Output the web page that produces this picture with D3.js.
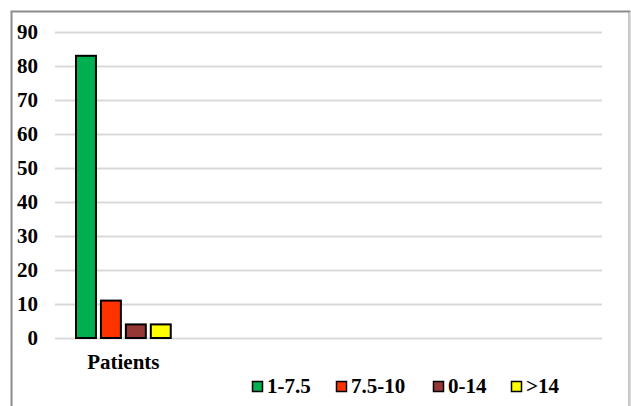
<!DOCTYPE html>
<html><head><meta charset="utf-8">
<script src="https://cdn.jsdelivr.net/npm/d3@7"></script>
<style>body{margin:0;background:#fff}svg{display:block}</style>
</head><body>
<script>
const categories = ["Patients", "", " ", "  "];
const seriesNames = ["1-7.5", "7.5-10", "0-14", ">14"];
const seriesValues = [[83], [11], [4], [4]];
const colors = ["#00b050", "#ff3300", "#953735", "#ffff00"];
const yTicks = [0, 10, 20, 30, 40, 50, 60, 70, 80, 90];

const W = 631, H = 406;
const svg = d3.select("body").append("svg").attr("width", W).attr("height", H);
const font = "Liberation Serif";

// outer frame
svg.append("rect").attr("x", 11.5).attr("y", 11.5).attr("width", 618).attr("height", 420)
  .attr("fill", "none").attr("stroke", "#8c8c8c").attr("stroke-width", 2);
svg.append("line").attr("x1", 630).attr("x2", 630).attr("y1", 12).attr("y2", H)
  .attr("stroke", "#e0e0e0").attr("stroke-width", 1.5);

const x0 = d3.scaleBand().domain(categories).range([55, 602]).paddingInner(0).paddingOuter(0);
const x1 = d3.scaleBand().domain(seriesNames).range([21, x0.bandwidth() - 21]).paddingInner(0.2).paddingOuter(0);
const y = d3.scaleLinear().domain([0, 90]).range([338, 32]);

const grid = svg.append("g").attr("transform", "translate(55,0)")
  .call(d3.axisLeft(y).tickValues(yTicks).tickSize(-547).tickFormat(""));
grid.select(".domain").remove();
grid.selectAll("line").attr("stroke", "#d9d9d9").attr("stroke-width", 2);

const yAxis = svg.append("g").attr("transform", "translate(38,0)")
  .attr("font-family", font)
  .call(d3.axisLeft(y).tickValues(yTicks).tickSize(0).tickPadding(0));
yAxis.attr("font-family", font).attr("font-size", 21);
yAxis.select(".domain").remove();
yAxis.selectAll("text").attr("font-family", font).attr("font-weight", "bold")
  .attr("font-size", 21).attr("fill", "#000").attr("dy", "0.33em");

const g = svg.append("g");
seriesNames.forEach((s, i) => {
  g.selectAll(null).data(seriesValues[i]).enter().append("rect")
    .attr("x", (d, j) => x0(categories[j]) + x1(s))
    .attr("y", d => y(d))
    .attr("width", x1.bandwidth())
    .attr("height", d => y(0) - y(d))
    .attr("fill", colors[i]).attr("stroke", "#000").attr("stroke-width", 2);
});

const xAxis = svg.append("g").attr("transform", "translate(0,348)")
  .call(d3.axisBottom(x0).tickSize(0).tickPadding(0));
xAxis.attr("font-family", font).attr("font-size", 21);
xAxis.select(".domain").remove();
xAxis.selectAll("text").attr("font-family", font).attr("font-weight", "bold")
  .attr("font-size", 21).attr("fill", "#000").attr("y", 21).attr("dy", null);

const legendX = [252, 336, 433, 511];
const leg = svg.append("g");
seriesNames.forEach((s, i) => {
  leg.append("rect").attr("x", legendX[i] + 0.5).attr("y", 381.5).attr("width", 10).attr("height", 10)
    .attr("fill", colors[i]).attr("stroke", "#000").attr("stroke-width", 1.5);
  leg.append("text").attr("x", legendX[i] + 15).attr("y", 393).text(s)
    .attr("font-family", font).attr("font-weight", "bold").attr("font-size", 21).attr("fill", "#000");
});
</script>
</body></html>
